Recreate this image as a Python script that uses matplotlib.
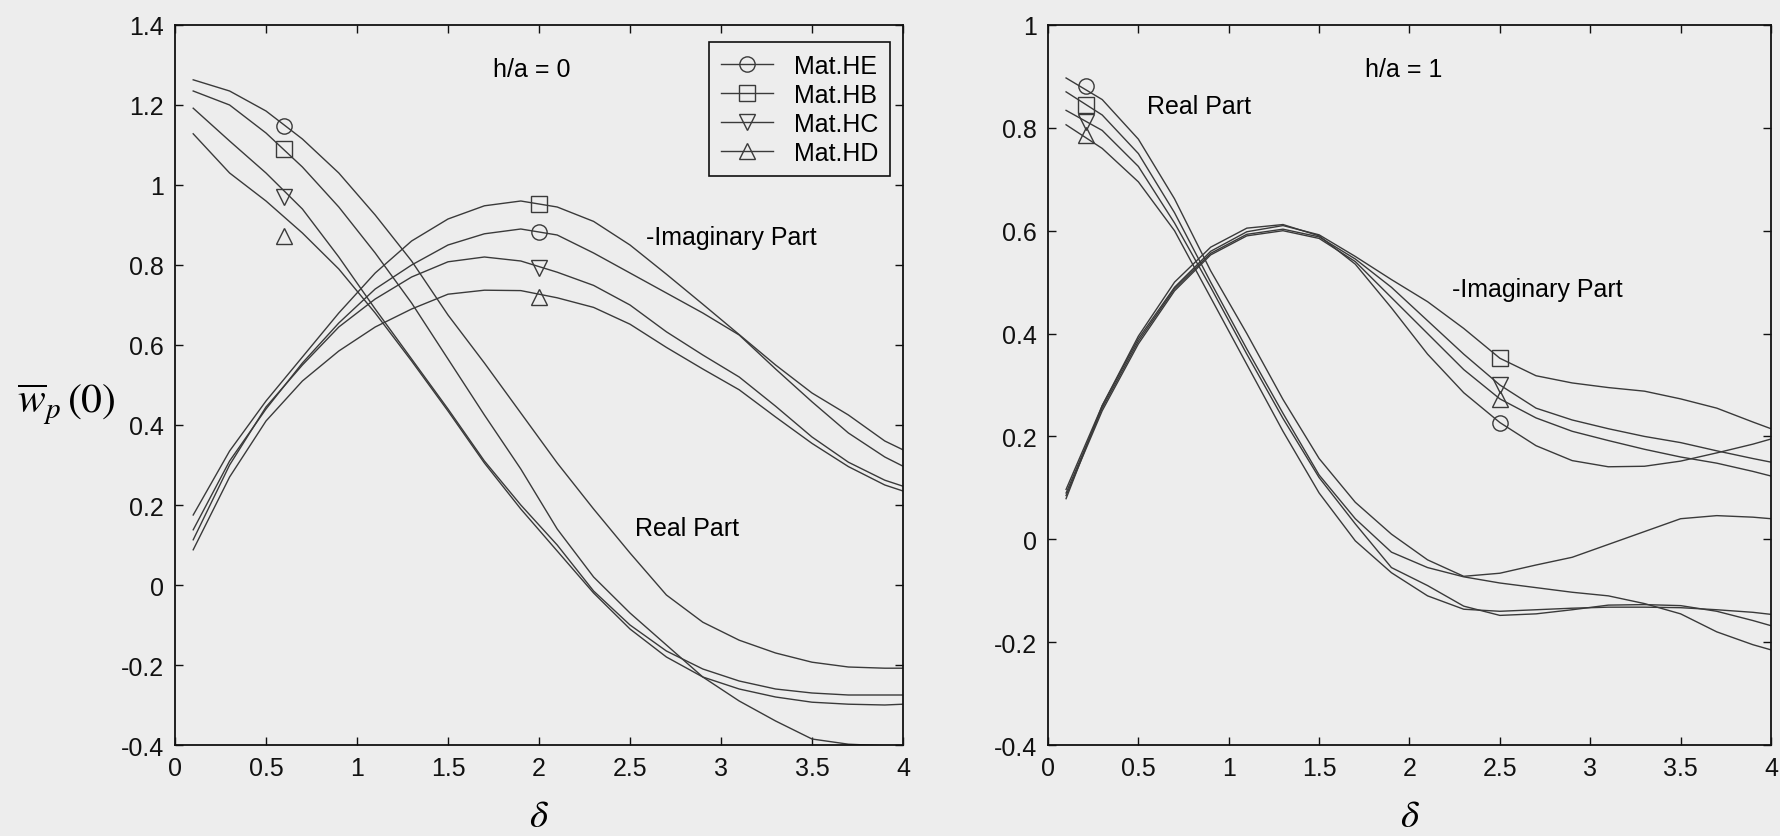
import matplotlib
matplotlib.use('Agg')
import matplotlib.pyplot as plt
from matplotlib.lines import Line2D
from matplotlib.ticker import FuncFormatter

plt.rcParams['font.family'] = ['Liberation Sans', 'DejaVu Sans']
plt.rcParams['axes.unicode_minus'] = False
plt.rcParams['mathtext.fontset'] = 'stix'

BG = '#ededed'
CLINE = '#3a3a3a'

# common delta grid for all curves
delta = [0.1, 0.3, 0.5, 0.7, 0.9, 1.1, 1.3, 1.5, 1.7, 1.9, 2.1,
         2.3, 2.5, 2.7, 2.9, 3.1, 3.3, 3.5, 3.7, 3.9, 4.0]

materials = ['Mat.HE', 'Mat.HB', 'Mat.HC', 'Mat.HD']
markers = ['o', 's', 'v', '^']

# h/a = 0 : real parts
real0_he = [1.263, 1.235, 1.185, 1.115, 1.03, 0.925, 0.81, 0.675, 0.555, 0.43, 0.305,
            0.19, 0.08, -0.025, -0.093, -0.138, -0.17, -0.193, -0.205, -0.208, -0.208]
real0_hb = [1.235, 1.2, 1.13, 1.045, 0.945, 0.83, 0.705, 0.565, 0.425, 0.29, 0.14,
            0.02, -0.07, -0.15, -0.23, -0.29, -0.34, -0.385, -0.398, -0.402, -0.402]
real0_hc = [1.192, 1.11, 1.03, 0.94, 0.82, 0.69, 0.565, 0.44, 0.31, 0.2, 0.1,
            -0.015, -0.1, -0.165, -0.21, -0.24, -0.26, -0.27, -0.275, -0.275, -0.275]
real0_hd = [1.128, 1.03, 0.96, 0.88, 0.79, 0.68, 0.56, 0.435, 0.305, 0.19, 0.085,
            -0.02, -0.11, -0.18, -0.23, -0.26, -0.28, -0.293, -0.298, -0.3, -0.298]

# h/a = 0 : -imaginary parts
imag0_he = [0.138, 0.31, 0.44, 0.555, 0.655, 0.74, 0.8, 0.85, 0.878, 0.89, 0.875,
            0.83, 0.78, 0.73, 0.68, 0.625, 0.54, 0.458, 0.38, 0.32, 0.297]
imag0_hb = [0.175, 0.335, 0.46, 0.57, 0.68, 0.78, 0.86, 0.915, 0.948, 0.96, 0.945,
            0.909, 0.85, 0.777, 0.702, 0.626, 0.55, 0.48, 0.425, 0.36, 0.338]
imag0_hc = [0.113, 0.3, 0.445, 0.55, 0.645, 0.715, 0.77, 0.808, 0.82, 0.81, 0.782,
            0.749, 0.7, 0.633, 0.575, 0.52, 0.447, 0.37, 0.307, 0.262, 0.247]
imag0_hd = [0.088, 0.27, 0.41, 0.51, 0.585, 0.645, 0.69, 0.727, 0.737, 0.736, 0.718,
            0.694, 0.652, 0.594, 0.54, 0.488, 0.42, 0.354, 0.296, 0.25, 0.235]

# h/a = 1 : real parts
real1_he = [0.897, 0.855, 0.778, 0.662, 0.522, 0.4, 0.272, 0.157, 0.072, 0.01, -0.04,
            -0.072, -0.066, -0.05, -0.035, -0.01, 0.015, 0.04, 0.046, 0.043, 0.04]
real1_hb = [0.87, 0.825, 0.75, 0.635, 0.5, 0.37, 0.245, 0.125, 0.04, -0.025, -0.055,
            -0.073, -0.085, -0.094, -0.103, -0.11, -0.125, -0.145, -0.18, -0.205, -0.215]
real1_hc = [0.834, 0.795, 0.725, 0.615, 0.49, 0.36, 0.235, 0.12, 0.03, -0.055, -0.09,
            -0.13, -0.148, -0.145, -0.137, -0.128, -0.127, -0.129, -0.14, -0.158, -0.168]
real1_hd = [0.806, 0.76, 0.695, 0.6, 0.47, 0.34, 0.21, 0.09, -0.003, -0.065, -0.11,
            -0.136, -0.14, -0.137, -0.134, -0.132, -0.132, -0.133, -0.137, -0.142, -0.146]

# h/a = 1 : -imaginary parts
imag1_he = [0.079, 0.26, 0.395, 0.5, 0.568, 0.605, 0.612, 0.59, 0.535, 0.45, 0.36,
            0.285, 0.227, 0.182, 0.153, 0.141, 0.142, 0.152, 0.168, 0.185, 0.195]
imag1_hb = [0.097, 0.26, 0.39, 0.49, 0.56, 0.598, 0.61, 0.592, 0.55, 0.505, 0.462,
            0.41, 0.352, 0.318, 0.304, 0.295, 0.288, 0.273, 0.255, 0.228, 0.215]
imag1_hc = [0.09, 0.255, 0.385, 0.487, 0.556, 0.593, 0.603, 0.588, 0.545, 0.49, 0.425,
            0.36, 0.3, 0.255, 0.232, 0.215, 0.2, 0.188, 0.172, 0.157, 0.15]
imag1_hd = [0.085, 0.25, 0.38, 0.483, 0.553, 0.59, 0.6, 0.585, 0.54, 0.47, 0.4,
            0.33, 0.273, 0.236, 0.21, 0.192, 0.175, 0.16, 0.148, 0.132, 0.123]

# marker labels (HE, HB, HC, HD)
mk0_real_x, mk0_real_y = 0.6, [1.147, 1.09, 0.97, 0.872]
mk0_imag_x, mk0_imag_y = 2.0, [0.882, 0.952, 0.793, 0.72]
mk1_real_x, mk1_real_y = 0.21, [0.881, 0.845, 0.812, 0.786]
mk1_imag_x, mk1_imag_y = 2.5, [0.227, 0.352, 0.30, 0.273]

xticks = [0, 0.5, 1, 1.5, 2, 2.5, 3, 3.5, 4]
yticks0 = [-0.4, -0.2, 0, 0.2, 0.4, 0.6, 0.8, 1, 1.2, 1.4]
yticks1 = [-0.4, -0.2, 0, 0.2, 0.4, 0.6, 0.8, 1]

fig = plt.figure(figsize=(17.81, 8.37), dpi=100, facecolor=BG)
W, H = 1781.0, 837.0
ax1 = fig.add_axes([175 / W, 1 - 746 / H, 728 / W, 720 / H])
ax2 = fig.add_axes([1048 / W, 1 - 746 / H, 723 / W, 720 / H])

fmt = FuncFormatter(lambda v, p: '%g' % v)


def style(ax, yticks):
    ax.set_facecolor(BG)
    ax.set_xlim(0, 4)
    ax.set_ylim(yticks[0], yticks[-1])
    ax.set_xticks(xticks)
    ax.set_yticks(yticks)
    ax.xaxis.set_major_formatter(fmt)
    ax.yaxis.set_major_formatter(fmt)
    ax.tick_params(direction='in', length=6, width=1, top=True, right=True,
                   labelsize=18, pad=8, colors='#111111')
    for s in ax.spines.values():
        s.set_linewidth(1.3)
        s.set_color('#111111')
    ax.set_xlabel(r'$\delta$', fontsize=28, labelpad=13)


def draw(ax, curves, mk):
    for y in curves:
        ax.plot(delta, y, color=CLINE, lw=1.0)
    for (mx, mys) in mk:
        for m, my in zip(markers, mys):
            ax.plot([mx], [my], marker=m, ms=11, mfc='none', mec=CLINE,
                    mew=1.0, linestyle='none')


style(ax1, yticks0)
style(ax2, yticks1)

draw(ax1, [real0_he, real0_hb, real0_hc, real0_hd,
           imag0_he, imag0_hb, imag0_hc, imag0_hd],
     [(mk0_real_x, mk0_real_y), (mk0_imag_x, mk0_imag_y)])
draw(ax2, [real1_he, real1_hb, real1_hc, real1_hd,
           imag1_he, imag1_hb, imag1_hc, imag1_hd],
     [(mk1_real_x, mk1_real_y), (mk1_imag_x, mk1_imag_y)])

ax1.text(1.96, 1.29, 'h/a = 0', ha='center', va='center', fontsize=18)
ax1.text(2.59, 0.87, '-Imaginary Part', ha='left', va='center', fontsize=18)
ax1.text(2.53, 0.142, 'Real Part', ha='left', va='center', fontsize=18)
ax2.text(1.97, 0.915, 'h/a = 1', ha='center', va='center', fontsize=18)
ax2.text(0.545, 0.843, 'Real Part', ha='left', va='center', fontsize=18)
ax2.text(2.234, 0.486, '-Imaginary Part', ha='left', va='center', fontsize=18)

handles = [Line2D([], [], color=CLINE, lw=1.0, marker=m, ms=11, mfc='none',
                  mec=CLINE, mew=1.0) for m in markers]
leg = ax1.legend(handles, materials, loc='upper right', bbox_to_anchor=(0.982, 0.976),
                 fontsize=18, fancybox=False, edgecolor='#111111', facecolor=BG,
                 framealpha=1, borderpad=0.45, handlelength=2.1, handletextpad=0.85,
                 labelspacing=0.2, borderaxespad=0, numpoints=1)
leg.get_frame().set_linewidth(1.2)

fig.text(17 / W, 0.518, r'$\overline{w}_{p}\,(0)$', fontsize=30, ha='left', va='center')

fig.savefig('out.png', dpi=100, facecolor=BG)
